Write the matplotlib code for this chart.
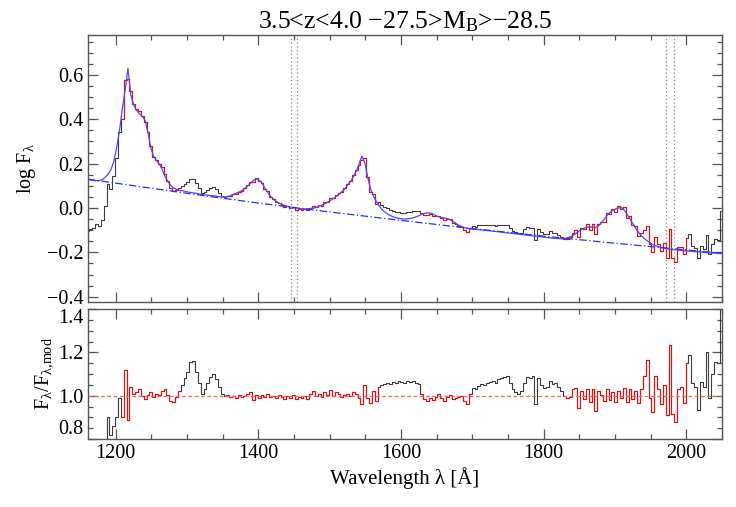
import numpy as np
import matplotlib
matplotlib.use("Agg")
from matplotlib import pyplot as plt
from matplotlib.ticker import MultipleLocator

plt.rcParams['font.family'] = ['Liberation Serif', 'DejaVu Serif']
plt.rcParams['mathtext.fontset'] = 'custom'
plt.rcParams['mathtext.rm'] = 'Liberation Serif'
plt.rcParams['mathtext.it'] = 'Liberation Serif:italic'

# wavelength bins (4 A steps, 1161..2049)
wave = np.arange(1161, 2050, 4)

# model fit, log F_lambda
model = [
    0.128, 0.126, 0.124, 0.123, 0.124, 0.128, 0.138, 0.152, 0.172, 0.208,
    0.270, 0.345, 0.445, 0.530, 0.630, 0.510, 0.465, 0.440, 0.425, 0.414,
    0.395, 0.342, 0.272, 0.232, 0.214, 0.198, 0.174, 0.142, 0.120, 0.102,
    0.090, 0.084, 0.080, 0.078, 0.075, 0.072, 0.070, 0.068, 0.066, 0.063,
    0.061, 0.059, 0.058, 0.056, 0.055, 0.053, 0.051, 0.050, 0.049, 0.051,
    0.056, 0.062, 0.067, 0.072, 0.079, 0.088, 0.099, 0.112, 0.124, 0.132,
    0.125, 0.112, 0.090, 0.070, 0.052, 0.040, 0.030, 0.022, 0.016, 0.011,
    0.007, 0.004, 0.001, -0.001, -0.003, -0.004, -0.004, -0.004, -0.003, -0.001,
    0.003, 0.008, 0.013, 0.019, 0.026, 0.034, 0.043, 0.052, 0.062, 0.074,
    0.087, 0.102, 0.120, 0.140, 0.165, 0.198, 0.234, 0.205, 0.142, 0.088,
    0.055, 0.030, 0.010, -0.006, -0.018, -0.027, -0.034, -0.040, -0.044, -0.047,
    -0.049, -0.050, -0.049, -0.047, -0.044, -0.040, -0.035, -0.029, -0.024, -0.022,
    -0.023, -0.028, -0.035, -0.040, -0.043, -0.045, -0.048, -0.054, -0.061, -0.070,
    -0.078, -0.084, -0.089, -0.092, -0.094, -0.096, -0.097, -0.098, -0.099, -0.100,
    -0.102, -0.103, -0.105, -0.106, -0.108, -0.109, -0.111, -0.112, -0.114, -0.115,
    -0.117, -0.118, -0.120, -0.121, -0.123, -0.124, -0.126, -0.127, -0.129, -0.130,
    -0.132, -0.133, -0.135, -0.136, -0.137, -0.138, -0.139, -0.138, -0.135, -0.130,
    -0.124, -0.115, -0.105, -0.097, -0.090, -0.086, -0.085, -0.087, -0.088, -0.080,
    -0.066, -0.050, -0.034, -0.020, -0.010, -0.004, 0.000, 0.002, -0.010, -0.030,
    -0.050, -0.070, -0.092, -0.110, -0.125, -0.138, -0.148, -0.157, -0.165, -0.170,
    -0.174, -0.178, -0.181, -0.184, -0.186, -0.188, -0.189, -0.190, -0.192, -0.193,
    -0.194, -0.195, -0.196, -0.197, -0.198, -0.199, -0.200, -0.201, -0.202, -0.203,
    -0.204, -0.205, -0.206,
]

# observed / model
ratio = [
    0.585, 0.600, 0.610, 0.640, 0.625, 0.656, 0.745, 0.900, 0.820, 0.860,
    0.900, 0.990, 0.900, 1.120, 0.890, 1.040, 1.010, 1.015, 1.030, 1.000,
    0.985, 1.005, 1.015, 0.995, 1.010, 1.005, 1.020, 1.030, 1.005, 0.975,
    0.970, 0.995, 1.020, 1.050, 1.080, 1.110, 1.155, 1.160, 1.110, 1.060,
    1.010, 1.030, 1.060, 1.085, 1.100, 1.075, 1.040, 1.010, 1.000, 1.005,
    0.995, 1.000, 0.990, 1.005, 0.995, 1.000, 1.010, 1.015, 0.980, 1.005,
    0.990, 1.005, 0.995, 1.010, 0.995, 1.000, 0.990, 1.005, 0.995, 0.985,
    1.000, 0.990, 1.005, 0.985, 0.995, 0.990, 1.000, 0.985, 1.010, 1.020,
    1.000, 1.010, 0.995, 1.015, 1.005, 1.025, 1.000, 1.015, 1.010, 0.995,
    1.005, 1.010, 1.000, 1.015, 1.010, 0.990, 0.960, 1.050, 0.990, 0.965,
    1.020, 0.975, 1.040, 1.050, 1.055, 1.060, 1.055, 1.065, 1.060, 1.070,
    1.065, 1.060, 1.070, 1.065, 1.070, 1.060, 1.055, 1.010, 0.985, 0.975,
    0.990, 0.980, 0.995, 1.010, 0.990, 0.975, 0.995, 1.005, 0.985, 0.990,
    0.995, 1.000, 0.975, 0.960, 1.010, 1.035, 1.030, 1.045, 1.055, 1.050,
    1.060, 1.065, 1.070, 1.060, 1.075, 1.080, 1.085, 1.090, 1.060, 1.030,
    1.015, 1.010, 1.020, 1.060, 1.085, 1.080, 1.090, 0.960, 1.080, 1.050,
    1.035, 1.040, 1.070, 1.055, 1.060, 1.040, 1.020, 1.000, 0.990, 0.995,
    1.030, 1.035, 0.945, 1.020, 0.985, 1.030, 0.970, 1.030, 0.930, 1.020,
    1.005, 0.975, 1.030, 0.980, 1.015, 0.970, 1.020, 0.990, 1.035, 0.970,
    1.030, 0.985, 1.020, 0.965, 1.030, 1.090, 1.165, 0.990, 0.925, 1.090,
    1.030, 0.960, 1.050, 0.910, 1.235, 0.915, 0.880, 1.030, 1.040, 0.965,
    1.150, 1.190, 1.060, 1.040, 0.935, 1.065, 1.040, 1.200, 0.990, 1.100,
    1.155, 1.150, 1.550,
]

# fitted windows (red), start/end in Angstrom
win_lo = [1207, 1351, 1629, 1829]
win_hi = [1286, 1567, 1693, 1999]

# power-law continuum
cont_wave = [1161, 1200, 1300, 1400, 1450, 1500, 1600, 1700, 1800, 1900, 2000, 2050]
cont_flux = [0.130, 0.112, 0.066, 0.022, 0.002, -0.018, -0.056, -0.093, -0.127, -0.159, -0.189, -0.204]

# continuum windows
vlines = [1445, 1454, 1972, 1982]

model = np.array(model)
ratio = np.array(ratio)
logf = model + np.log10(ratio)

infit = np.zeros(len(wave), dtype=bool)
for lo, hi in zip(win_lo, win_hi):
    infit |= (wave >= lo) & (wave <= hi)
# extend red one bin so the steps join
infit_draw = infit | np.roll(infit, 1)

black = '#3c3c3c'
red = '#dd1111'
frame = '#555555'

fig = plt.figure(figsize=(7.36, 5.07), dpi=100)
ax1 = fig.add_axes([0.1196, 0.4043, 0.8614, 0.5267])
ax2 = fig.add_axes([0.1196, 0.1341, 0.8614, 0.2564])

ax1.plot(wave, logf, drawstyle='steps-mid', color=black, lw=0.8)
ax1.plot(wave, np.where(infit_draw, logf, np.nan), drawstyle='steps-mid', color=red, lw=0.8)
ax1.plot(wave, model, color='#4a4aff', lw=0.9)
ax1.plot(cont_wave, cont_flux, color='#2233ee', lw=0.9, ls=(0, (6, 2, 1, 2)))
for v in vlines:
    ax1.axvline(v, color='#888888', lw=0.9, ls=(0, (1, 2)))

ax2.plot(wave, ratio, drawstyle='steps-mid', color=black, lw=0.8)
ax2.plot(wave, np.where(infit_draw, ratio, np.nan), drawstyle='steps-mid', color=red, lw=0.8)
ax2.axhline(1.0, color='#ee6666', lw=0.9, ls=(0, (3, 2)))

ax1.set_xlim(1161, 2050)
ax2.set_xlim(1161, 2050)
ax1.set_ylim(-0.424, 0.78)
ax2.set_ylim(0.8, 1.4)

for ax in (ax1, ax2):
    ax.xaxis.set_major_locator(MultipleLocator(200))
    ax.xaxis.set_minor_locator(MultipleLocator(50))
    ax.yaxis.set_minor_locator(MultipleLocator(0.05))
    ax.tick_params(which='both', direction='in', top=True, right=True,
                   colors=frame, labelcolor='black', labelsize=14.5, width=0.9)
    ax.tick_params(which='major', length=7)
    ax.tick_params(which='minor', length=3.5)
    for s in ax.spines.values():
        s.set_color(frame)
        s.set_linewidth(1.0)
ax1.tick_params(labelbottom=False)
ax1.set_yticks([-0.4, -0.2, 0.0, 0.2, 0.4, 0.6])
ax1.set_yticklabels(['\u22120.4', '\u22120.2', '0.0', '0.2', '0.4', '0.6'])
ax2.set_yticks([0.8, 1.0, 1.2, 1.4])
ax2.set_yticklabels(['0.8', '1.0', '1.2', '1.4'])
# keep the end labels inside the lower panel
ax2.get_yticklabels()[0].set_verticalalignment('bottom')
ax2.get_yticklabels()[-1].set_verticalalignment('top')

ax1.set_title('3.5<z<4.0 \u221227.5>M$_{\\mathrm{B}}$>\u221228.5', fontsize=18.5, pad=5)
ax1.set_ylabel('log F$_{\\mathrm{\u03bb}}$', fontsize=14.5, labelpad=6)
ax2.set_ylabel('F$_{\\mathrm{\u03bb}}$/F$_{\\mathrm{\u03bb{,}mod}}$', fontsize=14.5, labelpad=2)
ax2.set_xlabel('Wavelength \u03bb [\u00c5]', fontsize=15, labelpad=3)

fig.savefig('out.png', dpi=100)
